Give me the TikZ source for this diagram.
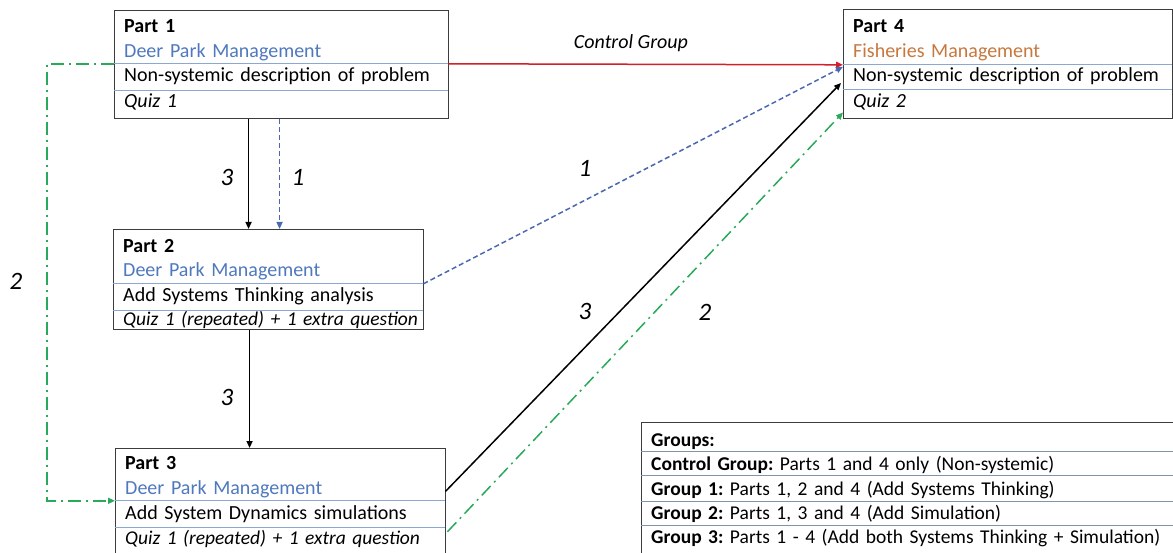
\documentclass[tikz,border=0pt]{standalone}
\usepackage{fontspec}
\setmainfont{Carlito}
\usetikzlibrary{arrows.meta}
\frenchspacing
\definecolor{deerblue}{RGB}{79,121,190}
\definecolor{fishorange}{RGB}{200,120,62}
\definecolor{seplineblue}{RGB}{140,168,208}
\definecolor{grpsep}{RGB}{130,148,172}
\definecolor{boxline}{RGB}{60,60,60}
\definecolor{redline}{RGB}{208,32,42}
\definecolor{bluedash}{RGB}{74,104,176}
\definecolor{greenline}{RGB}{40,170,90}
\tikzset{
  boxframe/.style={draw=boxline, line width=1.1pt, inner sep=0pt, anchor=north west},
  row/.style n args={3}{anchor=base west, inner xsep=10pt, inner ysep=0pt,
     text width=#1-20pt, align=left, text height=#2, text depth=#3,
     font=\fontsize{20}{24}\selectfont},
  grow/.style n args={3}{row={#1}{#2}{#3}, font=\fontsize{19.5}{23}\selectfont},
  qrow/.style n args={3}{row={#1}{#2}{#3}, font=\fontsize{19.5}{23}\selectfont\itshape},
  sepln/.style={draw=seplineblue, line width=0.9pt},
  gsepln/.style={draw=grpsep, line width=1.1pt},
  tip/.style={-{Triangle[length=7pt,width=6pt]}},
  redarrow/.style={tip, draw=redline, line width=1.5pt},
  bluearrow/.style={tip, draw=bluedash, line width=1.5pt, dash pattern=on 5pt off 3pt},
  blackarrow/.style={tip, draw=black, line width=1.5pt},
  greenarrow/.style={tip, draw=greenline, line width=1.5pt, dash pattern=on 13pt off 5pt on 2pt off 5pt},
  numlbl/.style={font=\fontsize{25}{28}\selectfont\itshape, inner sep=0pt},
}
\begin{document}
\begin{tikzpicture}[x=1pt,y=-1pt]
\useasboundingbox (0,0) rectangle (1173,553);
\fill[white] (0,0) rectangle (1173,553);

% Part 1
\node[boxframe, minimum width=334pt, minimum height=108pt] (p1) at (114,10) {};
\node[row={334pt}{23pt}{6pt}] (p1a) at (114,33) {\textbf{Part 1}};
\node[row={334pt}{19pt}{6pt}, text=deerblue] (p1b) at (114,58) {Deer Park Management};
\node[row={334pt}{18pt}{8pt}] (p1c) at (114,82) {\mbox{Non-systemic description of problem}};
\node[row={334pt}{18pt}{10pt}] (p1d) at (114,108) {\textit{Quiz 1}};
\draw[sepln] (p1c.north west) -- (p1c.north east);
\draw[sepln] (p1c.south west) -- (p1c.south east);

% Part 4
\node[boxframe, minimum width=329pt, minimum height=109pt] (p4) at (843,9) {};
\node[row={329pt}{24pt}{6pt}] (p4a) at (843,33) {\textbf{Part 4}};
\node[row={329pt}{19pt}{7pt}, text=fishorange] (p4b) at (843,58) {Fisheries Management};
\node[row={329pt}{17pt}{7pt}] (p4c) at (843,82) {\mbox{Non-systemic description of problem}};
\node[row={329pt}{19pt}{10pt}] (p4d) at (843,108) {\textit{Quiz 2}};
\draw[sepln] (p4c.north west) -- (p4c.north east);
\draw[sepln] (p4c.south west) -- (p4c.south east);

% Part 2
\node[boxframe, minimum width=310pt, minimum height=100pt] (p2) at (113,229) {};
\node[row={310pt}{24pt}{6pt}] (p2a) at (113,253) {\textbf{Part 2}};
\node[row={310pt}{18pt}{7pt}, text=deerblue] (p2b) at (113,277) {Deer Park Management};
\node[row={310pt}{18pt}{8pt}] (p2c) at (113,302) {Add Systems Thinking analysis};
\node[qrow={310pt}{16pt}{3pt}] (p2d) at (113,326) {\mbox{Quiz 1 (repeated) + 1 extra question}};
\draw[sepln] (p2c.north west) -- (p2c.north east);
\draw[sepln] (p2c.south west) -- (p2c.south east);

% Part 3
\node[boxframe, minimum width=330pt, minimum height=110pt] (p3) at (115,448) {};
\node[row={330pt}{21pt}{7pt}] (p3a) at (115,469) {\textbf{Part 3}};
\node[row={330pt}{18pt}{7pt}, text=deerblue] (p3b) at (115,494) {Deer Park Management};
\node[row={330pt}{18pt}{8pt}] (p3c) at (115,519) {Add System Dynamics simulations};
\node[qrow={330pt}{17pt}{9pt}] (p3d) at (115,544) {\mbox{Quiz 1 (repeated) + 1 extra question}};
\draw[sepln] (p3c.north west) -- (p3c.north east);
\draw[sepln] (p3c.south west) -- (p3c.south east);

% Groups legend
\node[boxframe, minimum width=540pt, minimum height=140pt] (grp) at (641,422) {};
\node[grow={532pt}{24pt}{6pt}] (ga) at (641,446) {\textbf{Groups:}};
\node[grow={532pt}{18pt}{6pt}] (gb) at (641,470) {\mbox{\textbf{Control Group:} Parts 1 and 4 only (Non-systemic)}};
\node[grow={532pt}{19pt}{7pt}] (gc) at (641,495) {\mbox{\textbf{Group 1:} Parts 1, 2 and 4 (Add Systems Thinking)}};
\node[grow={532pt}{17pt}{7pt}] (gd) at (641,519) {\mbox{\textbf{Group 2:} Parts 1, 3 and 4 (Add Simulation)}};
\node[grow={532pt}{17pt}{12pt}] (ge) at (641,543) {\mbox{\textbf{Group 3:} Parts 1 - 4 (Add both Systems Thinking + Simulation)}};
\draw[gsepln] (gb.north west) -- (gb.north east);
\draw[gsepln] (gc.north west) -- (gc.north east);
\draw[gsepln] (gd.north west) -- (gd.north east);
\draw[gsepln] (ge.north west) -- (ge.north east);

% Connectors
\draw[redarrow] (p1c.north east) -- (p4c.north west);
\draw[bluearrow] (p2c.north east) -- ([yshift=-2pt]p4c.north west);
\draw[blackarrow] ([yshift=-3pt]p3b.east) -- ([xshift=-2pt,yshift=-6pt]p4c.west);
\draw[greenarrow] ([yshift=-5pt,xshift=2pt]p3d.north east) -- ([yshift=-9pt]p4d.west);
\draw[greenarrow] (p1c.north west) -- ++(-67,0) |- (p3c.north west);
\draw[blackarrow] ([xshift=-33pt]p1.south) -- ([xshift=-33pt]p1.south |- p2.north);
\draw[bluearrow] ([xshift=-2pt]p1.south) -- ([xshift=-2pt]p1.south |- p2.north);
\draw[blackarrow] ([xshift=-19pt]p2.south) -- ([xshift=-19pt]p2.south |- p3.north);

% Labels
\node[font=\fontsize{20}{24}\selectfont\itshape, inner sep=0pt] (lcg) at (631,43) {Control Group};
\node[numlbl] (l1a) at (585,168) {1};
\node[numlbl] (l3a) at (585,311) {3};
\node[numlbl] (l2a) at (705,312) {2};
\node[numlbl] (l2b) at (16,281) {2};
\node[numlbl] (l3b) at (227,177) {3};
\node[numlbl] (l1b) at (298,177) {1};
\node[numlbl] (l3c) at (227,397) {3};
\end{tikzpicture}
\end{document}
